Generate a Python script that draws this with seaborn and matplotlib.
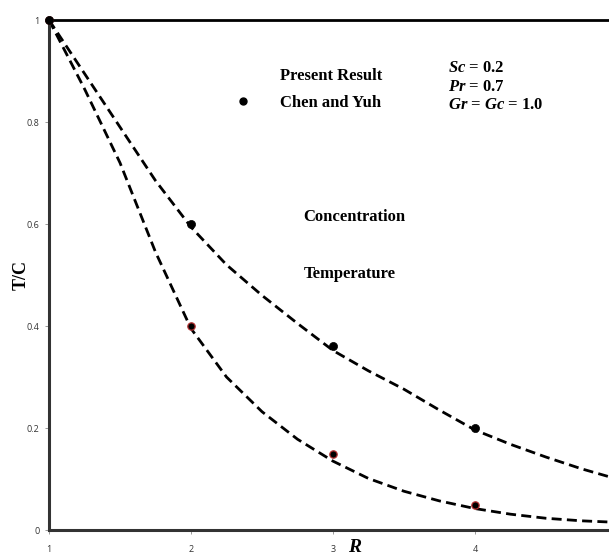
import matplotlib
matplotlib.use("Agg")
import matplotlib.pyplot as plt
import seaborn as sns
import pandas as pd
from matplotlib.lines import Line2D

# ---- data ----
R_curve = [1.0, 1.25, 1.5, 1.75, 2.0, 2.25, 2.5, 2.75, 3.0, 3.25, 3.5, 3.75, 4.0, 4.25, 4.5, 4.75, 5.0]
conc_curve = [1.0, 0.895, 0.79, 0.685, 0.594, 0.52, 0.46, 0.405, 0.352, 0.312, 0.276, 0.235, 0.196, 0.168, 0.143, 0.12, 0.10]
temp_curve = [1.0, 0.865, 0.72, 0.545, 0.395, 0.30, 0.232, 0.178, 0.135, 0.101, 0.076, 0.057, 0.042, 0.031, 0.023, 0.018, 0.015]

R_pts = [1, 2, 3, 4]
conc_pts = [1.0, 0.6, 0.36, 0.2]
temp_pts = [1.0, 0.40, 0.15, 0.05]

x_ticks = [1, 2, 3, 4]
y_ticks = [0, 0.2, 0.4, 0.6, 0.8, 1.0]
y_tick_labels = ["0", "0.2", "0.4", "0.6", "0.8", "1"]

sns.set_style("white")
plt.rcParams["font.family"] = ["Liberation Serif", "DejaVu Serif"]
plt.rcParams["text.color"] = "black"
plt.rcParams["axes.labelcolor"] = "black"
plt.rcParams["mathtext.fontset"] = "custom"
plt.rcParams["mathtext.it"] = "Liberation Serif:italic:bold"
plt.rcParams["mathtext.rm"] = "Liberation Serif:bold"

fig = plt.figure(figsize=(6.09, 5.60), dpi=100)
W, H = 609, 560
ax = fig.add_axes([49 / W, 30 / H, 568 / W, 510 / H])

curves = pd.DataFrame({"R": R_curve, "conc": conc_curve, "temp": temp_curve})
pts = pd.DataFrame({"R": R_pts, "conc": conc_pts, "temp": temp_pts})

for col in ["conc", "temp"]:
    sns.lineplot(data=curves, x="R", y=col, ax=ax, color="black", lw=2.0,
                 dashes=False, clip_on=False)
for line in ax.get_lines():
    line.set_dashes((3.6, 1.9))

sns.scatterplot(data=pts, x="R", y="temp", ax=ax, color="black", s=28,
                edgecolor="#b03030", linewidth=0.9, zorder=5, clip_on=False)
sns.scatterplot(data=pts, x="R", y="conc", ax=ax, color="black", s=34,
                edgecolor="black", linewidth=0.5, zorder=6, clip_on=False)

ax.set_xlim(1, 5)
ax.set_ylim(0, 1)
ax.set_xticks(x_ticks)
ax.set_xticklabels([str(t) for t in x_ticks])
ax.set_yticks(y_ticks)
ax.set_yticklabels(y_tick_labels)

for lab in ax.get_xticklabels() + ax.get_yticklabels():
    lab.set_fontfamily("Open Sans")
    lab.set_fontsize(6.5)
    lab.set_color("#333333")

ax.tick_params(axis="x", direction="out", length=3, width=0.6, color="#888888", pad=8, bottom=True)
ax.tick_params(axis="y", direction="out", length=3, width=0.6, color="#888888", pad=4, left=True)

for s in ["left", "bottom"]:
    ax.spines[s].set_color("#333333")
    ax.spines[s].set_linewidth(2.2)
ax.spines["top"].set_color("black")
ax.spines["top"].set_linewidth(2.0)
ax.spines["right"].set_visible(False)

ax.set_xlabel(r"$R$", fontsize=14)
ax.xaxis.set_label_coords((355 - 49) / 568, -0.018)
ax.set_ylabel("T/C", fontsize=13, fontweight="bold")
ax.yaxis.set_label_coords(-0.034, 0.5)

fs = 12
handles = [Line2D([], [], ls="none", label="Present Result"),
           Line2D([], [], ls="none", marker="o", color="black", ms=5, label="Chen and Yuh")]
leg = ax.legend(handles=handles, loc="upper left", bbox_to_anchor=(226 / W, 1 - 68.5 / H),
                bbox_transform=fig.transFigure, frameon=False, borderpad=0, borderaxespad=0,
                handlelength=2.0, handletextpad=1.24, labelspacing=0.62,
                prop={"family": "Liberation Serif", "weight": "bold", "size": fs})
for t in leg.get_texts():
    t.set_color("black")

fig.text(448 / W, 1 - 68 / H, r"$Sc$ = 0.2", fontsize=fs, fontweight="bold", va="center", ha="left")
fig.text(448 / W, 1 - 87 / H, r"$Pr$ = 0.7", fontsize=fs, fontweight="bold", va="center", ha="left")
fig.text(448 / W, 1 - 105 / H, r"$Gr$ = $Gc$ = 1.0", fontsize=fs, fontweight="bold", va="center", ha="left")

fig.text(354 / W, 1 - 217 / H, "Concentration", fontsize=fs, fontweight="bold", va="center", ha="center")
fig.text(350 / W, 1 - 274 / H, "Temperature", fontsize=fs, fontweight="bold", va="center", ha="center")

fig.savefig("out.png", dpi=100)
